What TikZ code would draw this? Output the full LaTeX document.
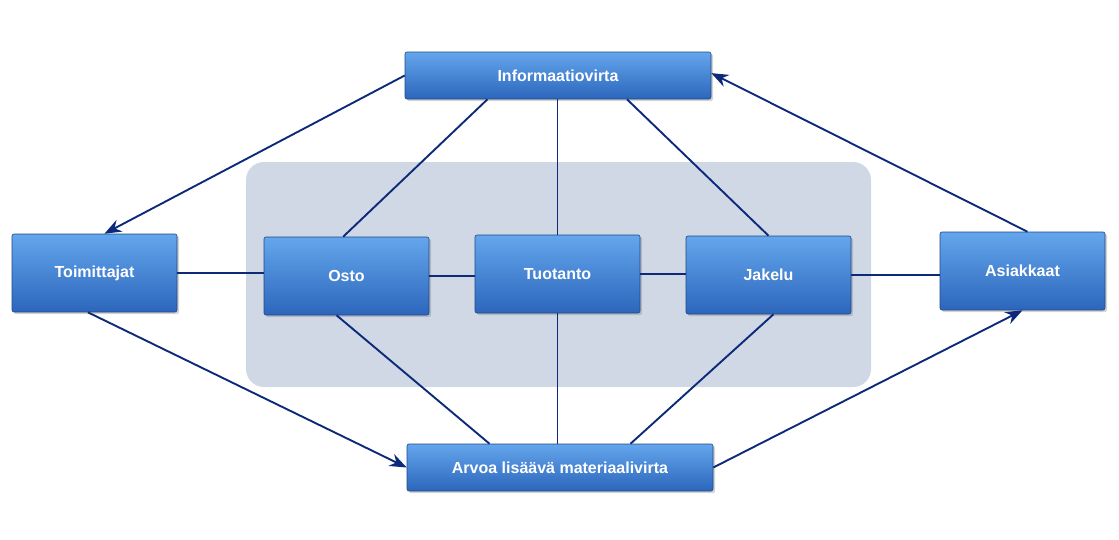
\documentclass[tikz,border=0pt]{standalone}
\usepackage{fontspec}
\setmainfont{Liberation Sans}
\usetikzlibrary{calc,shadows,arrows.meta}
\definecolor{navy}{HTML}{0D2A7A}
\definecolor{panel}{HTML}{D0D8E6}
\definecolor{btop}{HTML}{64A6EC}
\definecolor{bbot}{HTML}{2C66BC}
\begin{document}
\begin{tikzpicture}[x=1pt,y=-1pt,
 box/.style={draw=bbot!70!black,line width=0.6pt,rounded corners=2pt,top color=btop,bottom color=bbot,
   text=white,font=\bfseries\fontsize{16}{18}\selectfont,drop shadow={opacity=0.35,shadow xshift=2pt,shadow yshift=-2pt},inner sep=0pt},
 ln/.style={draw=navy,line width=1.9pt},
 arr/.style={ln,-{Stealth[length=17pt,width=13pt]}}]
\useasboundingbox (0,0) rectangle (1119,539);
\fill[panel,rounded corners=18pt] (246,162) rectangle (871,387);
\node[box,minimum width=306pt,minimum height=47pt] (info) at (558,75.5) {Informaatiovirta};
\node[box,minimum width=165pt,minimum height=78pt] (toim) at (94.5,273) {Toimittajat};
\node[box,minimum width=165pt,minimum height=78pt] (osto) at (346.5,276) {Osto};
\node[box,minimum width=165pt,minimum height=78pt] (tuot) at (557.5,274) {Tuotanto};
\node[box,minimum width=165pt,minimum height=78pt] (jak) at (768.5,275) {Jakelu};
\node[box,minimum width=165pt,minimum height=78pt] (asi) at (1022.5,271) {Asiakkaat};
\node[box,minimum width=306pt,minimum height=47pt] (arv) at (560,467.5) {Arvoa lisäävä materiaalivirta};
\draw[ln] (toim.east) -- (toim.east -| osto.west);
\draw[ln] (osto.east) -- (osto.east -| tuot.west);
\draw[ln] (tuot.east) -- (tuot.east -| jak.west);
\draw[ln] (jak.east) -- (jak.east -| asi.west);
\draw[ln] ($(info.south west)!0.27!(info.south east)$) -- ($(osto.north west)!0.48!(osto.north east)$);
\draw[ln] (info.south -| tuot.north) -- (tuot.north);
\draw[ln] ($(info.south west)!0.725!(info.south east)$) -- ($(jak.north west)!0.5!(jak.north east)$);
\draw[ln] ($(arv.north west)!0.27!(arv.north east)$) -- ($(osto.south west)!0.44!(osto.south east)$);
\draw[ln] (arv.north -| tuot.south) -- (tuot.south);
\draw[ln] ($(arv.north west)!0.73!(arv.north east)$) -- ($(jak.south west)!0.53!(jak.south east)$);
\draw[arr] ($(info.north west)!0.5!(info.south west)$) -- ($(toim.north west)!0.56!(toim.north east)$);
\draw[arr] ($(asi.north west)!0.53!(asi.north east)$) -- ($(info.north east)!0.45!(info.south east)$);
\draw[arr] ($(toim.south west)!0.46!(toim.south east)$) -- ($(arv.north west)!0.5!(arv.south west)$);
\draw[arr] ($(arv.north east)!0.5!(arv.south east)$) -- ($(asi.south west)!0.5!(asi.south east)$);
\end{tikzpicture}
\end{document}
